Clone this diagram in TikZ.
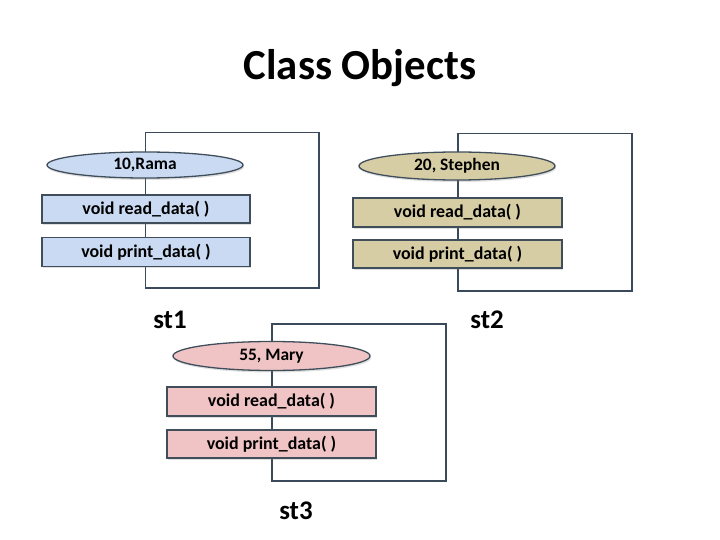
\documentclass[tikz,border=0pt]{standalone}
\usepackage{fontspec}
\setmainfont{Carlito}
\usetikzlibrary{shapes.geometric,shadows}
\definecolor{frameC}{HTML}{3B4A5A}
\definecolor{blueF}{HTML}{C9DAF2}
\definecolor{tanF}{HTML}{D6CDA4}
\definecolor{pinkF}{HTML}{F0C4C4}
\definecolor{edgeC}{HTML}{404E5C}
\tikzset{
  frame/.style={draw=frameC, line width=2pt},
  objell/.style={ellipse, draw=edgeC, line width=1.3pt, inner sep=0pt,
     font=\fontsize{17.5}{17.5}\selectfont\bfseries, drop shadow={shadow xshift=1pt, shadow yshift=-2pt, opacity=0.25}},
  method/.style={rectangle, draw=edgeC, line width=1.5pt, inner sep=0pt,
     font=\fontsize{18}{18}\selectfont\bfseries, drop shadow={shadow xshift=1pt, shadow yshift=-2pt, opacity=0.25}},
  objname/.style={font=\fontsize{27}{27}\selectfont\bfseries},
}
\begin{document}
\begin{tikzpicture}[x=1bp,y=-1bp]
\useasboundingbox (0,0) rectangle (720,540);
\node[font=\fontsize{43}{43}\selectfont\bfseries] (title) at (360,68) {Class Objects};
% object st1
\coordinate (f1a) at (145.5,132.5);
\coordinate (f1b) at (319,288);
\draw[frame] (f1a) rectangle (f1b);
\node[objell, fill=blueF, minimum width=196bp, minimum height=26bp] (e1) at (145,165) {10,Rama};
\node[method, fill=blueF, minimum width=208bp, minimum height=28bp] (r1) at (146,209) {void read\_data( )};
\node[method, fill=blueF, minimum width=208bp, minimum height=29bp] (p1) at (146,252) {void print\_data( )};
\node[objname] (st1) at (170,320) {st1};
% object st2
\coordinate (f2a) at (457.5,133.5);
\coordinate (f2b) at (631.5,291);
\draw[frame] (f2a) rectangle (f2b);
\node[objell, fill=tanF, minimum width=196bp, minimum height=28bp] (e2) at (457,166) {20, Stephen};
\node[method, fill=tanF, minimum width=209bp, minimum height=29bp] (r2) at (457.5,212.5) {void read\_data( )};
\node[method, fill=tanF, minimum width=209bp, minimum height=28bp] (p2) at (457.5,254) {void print\_data( )};
\node[objname] (st2) at (487,320) {st2};
% object st3
\coordinate (f3a) at (271.5,324);
\coordinate (f3b) at (445.5,481);
\draw[frame] (f3a) rectangle (f3b);
\node[objell, fill=pinkF, minimum width=197bp, minimum height=29bp] (e3) at (271.5,356) {55, Mary};
\node[method, fill=pinkF, minimum width=209bp, minimum height=29bp] (r3) at (271.5,401.5) {void read\_data( )};
\node[method, fill=pinkF, minimum width=209bp, minimum height=28bp] (p3) at (271.5,444) {void print\_data( )};
\node[objname] (st3) at (296,511) {st3};
\end{tikzpicture}
\end{document}
